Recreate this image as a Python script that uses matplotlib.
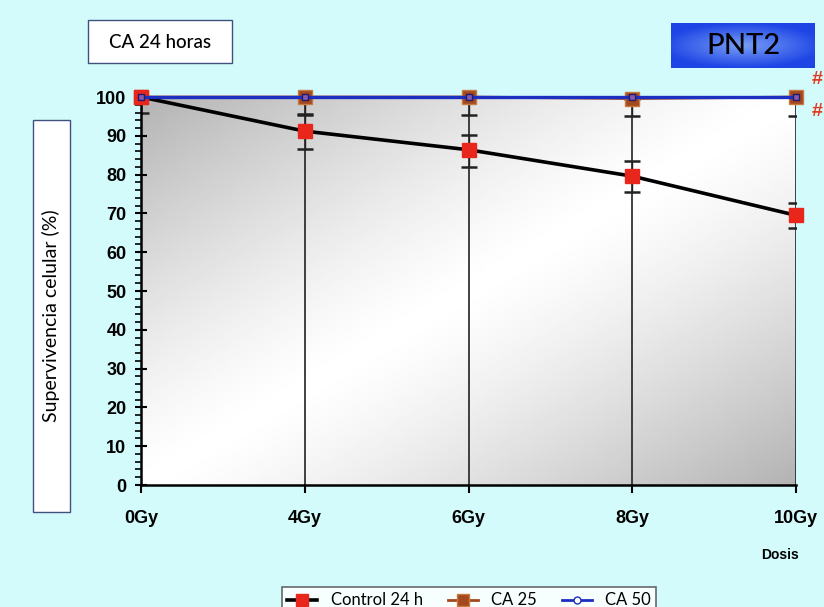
import numpy as np
import matplotlib.pyplot as plt
from matplotlib.patches import Rectangle
from matplotlib.lines import Line2D
from matplotlib.ticker import MultipleLocator

# datos
dosis = ["0Gy", "4Gy", "6Gy", "8Gy", "10Gy"]
control_24h = [100, 91.2, 86.4, 79.6, 69.5]
control_err_lo = [0, 4.7, 4.4, 4.0, 3.3]
control_err_hi = [0, 4.3, 3.8, 4.0, 3.1]
ca_25 = [100, 100, 100, 99.6, 100]
ca_25_err = [4.0, 4.6, 4.7, 4.4, 4.8]
ca_50 = [100, 100, 100, 100, 100]

BG = "#d3fbfb"
W, H = 824, 607
TXT_FONT = ["Lato", "DejaVu Sans"]

plt.rcParams["font.family"] = ["Liberation Sans", "DejaVu Sans"]

fig = plt.figure(figsize=(W / 100, H / 100), dpi=100, facecolor=BG)


def fx(px):
    return px / W


def fy(py):
    return 1 - py / H


ax = fig.add_axes([fx(141), fy(485), (796 - 141) / W, (485 - 97) / H])
ax.set_facecolor("white")
x = np.arange(len(dosis))

# fondo degradado: gris en esquinas sup-izq e inf-der, blanco en la diagonal
u, v = np.meshgrid(np.linspace(0, 1, 300), np.linspace(1, 0, 300))
shade = np.abs(u - v) ** 1.3
ax.imshow(1 - 0.3 * shade, cmap="gray", vmin=0, vmax=1, extent=[0, 4, 0, 100],
          aspect="auto", zorder=0, interpolation="bilinear")

ax.vlines(x, 0, 100, color="#222222", lw=1.2, zorder=1)

ax.errorbar(x, ca_25, yerr=[ca_25_err, [0] * 5], fmt="none", ecolor="#222222",
            elinewidth=1.0, capsize=6, capthick=1.8, zorder=2)
ax.errorbar(x, control_24h, yerr=[control_err_lo, control_err_hi], fmt="none",
            ecolor="#222222", elinewidth=1.0, capsize=6, capthick=1.8, zorder=2)

ax.plot(x, control_24h, color="black", lw=2.6, marker="s", ms=10,
        mfc="#e8261c", mec="#e8261c", zorder=4, clip_on=False)
ax.plot(x, ca_25, color="#a3481f", lw=2, marker="s", ms=10,
        mfc="#a3481f", mec="#c87b40", zorder=3, clip_on=False)
ax.plot(x, ca_50, color="#1c2fc0", lw=2.4, marker="s", ms=4.5,
        mfc="#8a5aa8", mec="#1c1c70", zorder=5, clip_on=False)

ax.set_xlim(0, 4)
ax.set_ylim(0, 100)
ax.set_xticks(x)
ax.set_xticklabels(dosis, fontsize=13, fontweight="bold")
ax.yaxis.set_major_locator(MultipleLocator(10))
ax.yaxis.set_minor_locator(MultipleLocator(2))
ax.tick_params(axis="y", which="major", direction="inout", length=9, width=1.5,
               labelsize=13, pad=6)
ax.tick_params(axis="y", which="minor", direction="out", length=4, width=1.2)
ax.tick_params(axis="x", which="major", direction="out", length=6, width=1.5,
               labelsize=13, pad=12)
for lab in ax.get_yticklabels():
    lab.set_fontweight("bold")
for side in ("top", "right"):
    ax.spines[side].set_visible(False)
for side in ("left", "bottom"):
    ax.spines[side].set_linewidth(1.8)

# cajas de texto
fig.patches.append(Rectangle((fx(88), fy(63)), 144 / W, 43 / H, transform=fig.transFigure,
                             facecolor="white", edgecolor="#405080", lw=1))
fig.text(fx(160), fy(42), "CA 24 horas", ha="center", va="center", fontsize=13.5,
         family=TXT_FONT, fontweight="medium")

# caja PNT2 con degradado azul
bax = fig.add_axes([fx(671), fy(68), 144 / W, 45 / H])
bu, bv = np.meshgrid(np.linspace(-1, 1, 200), np.linspace(-1, 1, 80))
glow = np.clip(1 - np.sqrt(bu ** 2 * 0.8 + bv ** 2), 0, 1)
rgb = np.dstack([0.12 + 0.35 * glow, 0.27 + 0.35 * glow, 0.90 + 0.06 * glow])
bax.imshow(rgb, extent=[0, 1, 0, 1], aspect="auto", interpolation="bilinear")
bax.set_axis_off()
bax.text(0.5, 0.5, "PNT2", ha="center", va="center", fontsize=21,
         family=TXT_FONT, fontweight="medium", color="black",
         transform=bax.transAxes)

fig.patches.append(Rectangle((fx(33), fy(512)), 37 / W, 392 / H, transform=fig.transFigure,
                             facecolor="white", edgecolor="#405080", lw=1))
fig.text(fx(51), fy(316), "Supervivencia celular (%)", ha="center", va="center",
         rotation=90, fontsize=14, family=TXT_FONT)

fig.text(fx(823), fy(80), "#", ha="right", va="center", fontsize=14,
         color="#e33a22", fontweight="bold")
fig.text(fx(823), fy(111), "#", ha="right", va="center", fontsize=14,
         color="#e33a22", fontweight="bold")

fig.text(fx(780), fy(555), "Dosis", ha="center", va="center", fontsize=10,
         fontweight="bold")

handles = [
    Line2D([], [], color="black", lw=2.6, marker="s", ms=8, mfc="#e8261c", mec="#e8261c"),
    Line2D([], [], color="#a3481f", lw=2, marker="s", ms=8, mfc="#a3481f", mec="#c87b40"),
    Line2D([], [], color="#1c2fc0", lw=2, marker="o", ms=5, mfc="white", mec="#1c2fc0"),
]
leg = fig.legend(handles, ["Control 24 h", "CA 25", "CA 50"], ncol=3,
                 loc="upper center", bbox_to_anchor=(fx(469), fy(579)),
                 frameon=True, fancybox=False, edgecolor="#444444",
                 prop={"family": TXT_FONT, "size": 12}, handlelength=1.8,
                 columnspacing=1.5, borderpad=0.3)
leg.get_frame().set_linewidth(1.2)

fig.savefig("out.png", dpi=100, facecolor=BG)
